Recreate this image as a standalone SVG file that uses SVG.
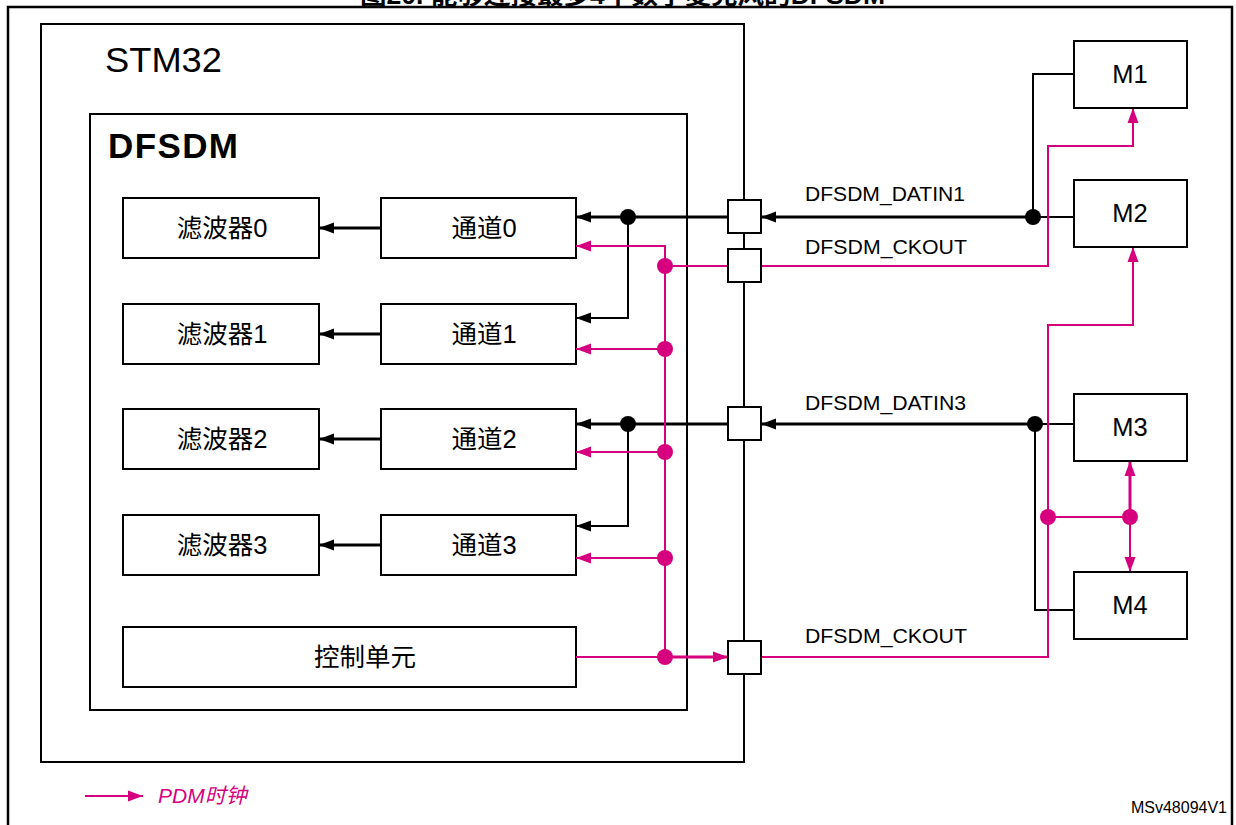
<svg xmlns="http://www.w3.org/2000/svg" width="1236" height="825" viewBox="0 0 1236 825">
<style>
.box{fill:#fff;stroke:#000;stroke-width:2}
.frame{fill:none;stroke:#000;stroke-width:2.5}
.t{font-family:"Liberation Sans","Noto Sans CJK SC",sans-serif;fill:#000}
.lbl{font-size:25.5px;text-anchor:middle;dominant-baseline:central}
.sig{font-size:20px}
.bk{fill:none;stroke:#000;stroke-width:2}
.bk3{fill:none;stroke:#000;stroke-width:3}
.mg{fill:none;stroke:#d6007f;stroke-width:2}
.mg3{fill:none;stroke:#d6007f;stroke-width:3}
.dk{fill:#000}
.dm{fill:#d6007f}
</style>
<defs>
<marker id="ab" markerUnits="userSpaceOnUse" markerWidth="16" markerHeight="12" refX="15" refY="6" orient="auto"><path d="M0,0.5 L15,6 L0,11.5 z" fill="#000"/></marker>
<marker id="am" markerUnits="userSpaceOnUse" markerWidth="16" markerHeight="12" refX="15" refY="6" orient="auto"><path d="M0,0.5 L15,6 L0,11.5 z" fill="#d6007f"/></marker>
</defs>
<rect width="1236" height="825" fill="#fff"/>
<text class="t" x="360" y="4" font-size="25" font-weight="bold" textLength="525" lengthAdjust="spacingAndGlyphs">图20. 能够连接最多4个数字麦克风的DFSDM</text>
<path class="frame" d="M8,830 V7 H1232 V830"/>

<g id="stm32">
<rect class="box" x="41" y="24" width="703" height="738"/>
<text class="t" x="105" y="72" font-size="35" textLength="117" lengthAdjust="spacingAndGlyphs">STM32</text>
</g>
<g id="dfsdm">
<rect class="box" x="90" y="114" width="597" height="596"/>
<text class="t" x="108" y="158" font-size="35" font-weight="bold" textLength="130">DFSDM</text>
</g>

<g id="filter0"><rect class="box" x="123" y="198" width="196" height="60"/><text class="t lbl" x="222" y="228">滤波器0</text></g>
<g id="filter1"><rect class="box" x="123" y="304" width="196" height="60"/><text class="t lbl" x="222" y="334">滤波器1</text></g>
<g id="filter2"><rect class="box" x="123" y="409" width="196" height="60"/><text class="t lbl" x="222" y="439">滤波器2</text></g>
<g id="filter3"><rect class="box" x="123" y="515" width="196" height="60"/><text class="t lbl" x="222" y="545">滤波器3</text></g>
<g id="ch0"><rect class="box" x="381" y="198" width="195" height="60"/><text class="t lbl" x="484" y="228">通道0</text></g>
<g id="ch1"><rect class="box" x="381" y="304" width="195" height="60"/><text class="t lbl" x="484" y="334">通道1</text></g>
<g id="ch2"><rect class="box" x="381" y="409" width="195" height="60"/><text class="t lbl" x="484" y="439">通道2</text></g>
<g id="ch3"><rect class="box" x="381" y="515" width="195" height="60"/><text class="t lbl" x="484" y="545">通道3</text></g>
<g id="ctrl"><rect class="box" x="123" y="627" width="453" height="60"/><text class="t lbl" x="365" y="657">控制单元</text></g>

<g id="connectors">
<line class="bk3" x1="381" y1="228" x2="319" y2="228" marker-end="url(#ab)"/>
<line class="bk3" x1="381" y1="334" x2="319" y2="334" marker-end="url(#ab)"/>
<line class="bk3" x1="381" y1="439" x2="319" y2="439" marker-end="url(#ab)"/>
<line class="bk3" x1="381" y1="545" x2="319" y2="545" marker-end="url(#ab)"/>

<line class="bk3" x1="728" y1="217" x2="576" y2="217" marker-end="url(#ab)"/>
<path class="bk" d="M628,217 V318 H576" marker-end="url(#ab)"/>
<line class="bk3" x1="728" y1="424" x2="576" y2="424" marker-end="url(#ab)"/>
<path class="bk" d="M628,424 V526 H576" marker-end="url(#ab)"/>

<path class="mg" d="M665,657 V246 H576" marker-end="url(#am)"/>
<line class="mg" x1="665" y1="349" x2="576" y2="349" marker-end="url(#am)"/>
<line class="mg" x1="665" y1="452" x2="576" y2="452" marker-end="url(#am)"/>
<line class="mg" x1="665" y1="558" x2="576" y2="558" marker-end="url(#am)"/>
<line class="mg" x1="665" y1="266" x2="728" y2="266"/>
<line class="mg" x1="576" y1="657" x2="665" y2="657"/>
<line class="mg3" x1="665" y1="657" x2="728" y2="657" marker-end="url(#am)"/>

<line class="bk3" x1="1033" y1="217" x2="761" y2="217" marker-end="url(#ab)"/>
<line class="bk" x1="1033" y1="217" x2="1074" y2="217"/>
<path class="bk" d="M1074,74 H1033 V217"/>
<line class="bk3" x1="1035" y1="424" x2="761" y2="424" marker-end="url(#ab)"/>
<line class="bk" x1="1035" y1="424" x2="1074" y2="424"/>
<path class="bk" d="M1035,424 V610 H1074"/>

<path class="mg" d="M761,266 H1048 V146 H1133 V108" marker-end="url(#am)"/>
<path class="mg" d="M761,657 H1048 V325 H1133 V247" marker-end="url(#am)"/>
<line class="mg" x1="1048" y1="517" x2="1130" y2="517"/>
<line class="mg3" x1="1130" y1="517" x2="1130" y2="461" marker-end="url(#am)"/>
<line class="mg" x1="1130" y1="517" x2="1130" y2="572" marker-end="url(#am)"/>

<circle class="dk" cx="628" cy="217" r="8"/>
<circle class="dk" cx="628" cy="424" r="8"/>
<circle class="dk" cx="1033" cy="217" r="8"/>
<circle class="dk" cx="1035" cy="424" r="8"/>
<circle class="dm" cx="665" cy="266" r="8"/>
<circle class="dm" cx="665" cy="349" r="8"/>
<circle class="dm" cx="665" cy="452" r="8"/>
<circle class="dm" cx="665" cy="558" r="8"/>
<circle class="dm" cx="665" cy="657" r="8"/>
<circle class="dm" cx="1048" cy="517" r="8"/>
<circle class="dm" cx="1130" cy="517" r="8"/>
</g>

<g id="pin1"><rect class="box" x="728" y="200" width="33" height="33"/></g>
<g id="pin2"><rect class="box" x="728" y="249" width="33" height="33"/></g>
<g id="pin3"><rect class="box" x="728" y="407" width="33" height="33"/></g>
<g id="pin4"><rect class="box" x="728" y="641" width="33" height="33"/></g>

<g id="signal-labels">
<text class="t sig" x="805" y="201" textLength="160" lengthAdjust="spacingAndGlyphs">DFSDM_DATIN1</text>
<text class="t sig" x="805" y="254" textLength="162" lengthAdjust="spacingAndGlyphs">DFSDM_CKOUT</text>
<text class="t sig" x="805" y="410" textLength="161" lengthAdjust="spacingAndGlyphs">DFSDM_DATIN3</text>
<text class="t sig" x="805" y="643" textLength="162" lengthAdjust="spacingAndGlyphs">DFSDM_CKOUT</text>
</g>

<g id="m1"><rect class="box" x="1074" y="41" width="113" height="67"/><text class="t lbl" x="1130" y="74">M1</text></g>
<g id="m2"><rect class="box" x="1074" y="180" width="113" height="67"/><text class="t lbl" x="1130" y="213">M2</text></g>
<g id="m3"><rect class="box" x="1074" y="394" width="113" height="67"/><text class="t lbl" x="1130" y="427">M3</text></g>
<g id="m4"><rect class="box" x="1074" y="572" width="113" height="67"/><text class="t lbl" x="1130" y="605">M4</text></g>

<g id="legend">
<line class="mg" x1="85" y1="796" x2="143" y2="796" marker-end="url(#am)"/>
<text class="t" x="158" y="803" font-size="21" font-style="italic" style="fill:#d6007f">PDM时钟</text>
</g>
<text class="t" x="1227" y="813" font-size="16" text-anchor="end">MSv48094V1</text>
</svg>
